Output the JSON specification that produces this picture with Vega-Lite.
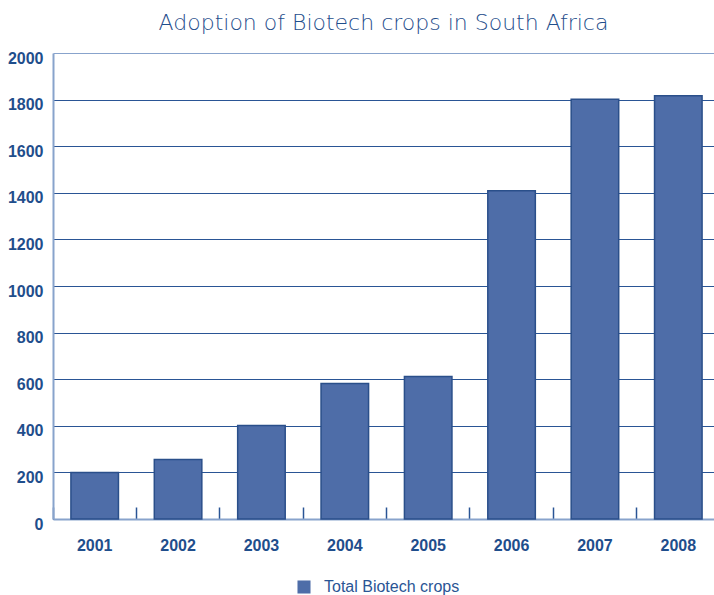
{
  "$schema": "https://vega.github.io/schema/vega-lite/v6.json",
  "autosize": {"type": "none"},
  "width": 661,
  "height": 466,
  "padding": {"left": 53, "top": 53, "right": 0, "bottom": 76},
  "background": "white",
  "title": {
    "text": "Adoption of Biotech crops in South Africa",
    "font": "DejaVu Sans",
    "fontSize": 22,
    "fontWeight": 300,
    "color": "#1f4e8c",
    "anchor": "middle",
    "offset": -2,
    "baseline": "alphabetic"
  },
  "data": {
    "values": [
      {"year": "2001", "area": 200},
      {"year": "2002", "area": 255},
      {"year": "2003", "area": 401},
      {"year": "2004", "area": 582},
      {"year": "2005", "area": 612},
      {"year": "2006", "area": 1409},
      {"year": "2007", "area": 1801},
      {"year": "2008", "area": 1817}
    ]
  },
  "mark": {"type": "bar", "width": {"band": 0.57}, "stroke": "#2a4f8a", "strokeWidth": 1.5},
  "encoding": {
    "x": {
      "field": "year",
      "type": "nominal",
      "scale": {"range": [0, 667], "paddingInner": 0, "paddingOuter": 0},
      "axis": {
        "title": null,
        "labelAngle": 0,
        "bandPosition": 0,
        "domainColor": "#88a3cc",
        "domainWidth": 2,
        "ticks": true,
        "tickSize": -12,
        "tickColor": "#2a5595",
        "tickWidth": 1.5,
        "labelFont": "Liberation Sans",
        "labelFontWeight": "bold",
        "labelFontSize": 16,
        "labelColor": "#1f4e8c",
        "labelPadding": 30,
        "grid": false
      }
    },
    "y": {
      "field": "area",
      "type": "quantitative",
      "scale": {"domain": [0, 2000]},
      "axis": {
        "title": null,
        "format": "d",
        "values": [0, 200, 400, 600, 800, 1000, 1200, 1400, 1600, 1800, 2000],
        "grid": true,
        "gridColor": {"condition": {"test": "datum.value === 2000", "value": "#88a3cc"}, "value": "#2a5595"},
        "gridWidth": 1.2,
        "domainColor": "#88a3cc",
        "domainWidth": 2,
        "ticks": false,
        "labelFont": "Liberation Sans",
        "labelFontWeight": "bold",
        "labelFontSize": 16,
        "labelColor": "#1f4e8c",
        "labelPadding": 10,
        "labelOffset": 5
      }
    },
    "color": {
      "datum": "Total Biotech crops",
      "type": "nominal",
      "scale": {"range": ["#4e6da8"]},
      "legend": {
        "title": null,
        "orient": "none",
        "legendX": 243,
        "legendY": 526,
        "symbolType": "square",
        "symbolSize": 170,
        "symbolStrokeWidth": 0,
        "labelFont": "Liberation Sans",
        "labelFontSize": 16,
        "labelColor": "#2a5595",
        "labelOffset": 12,
        "padding": 0
      }
    }
  },
  "config": {"view": {"stroke": null}}
}
